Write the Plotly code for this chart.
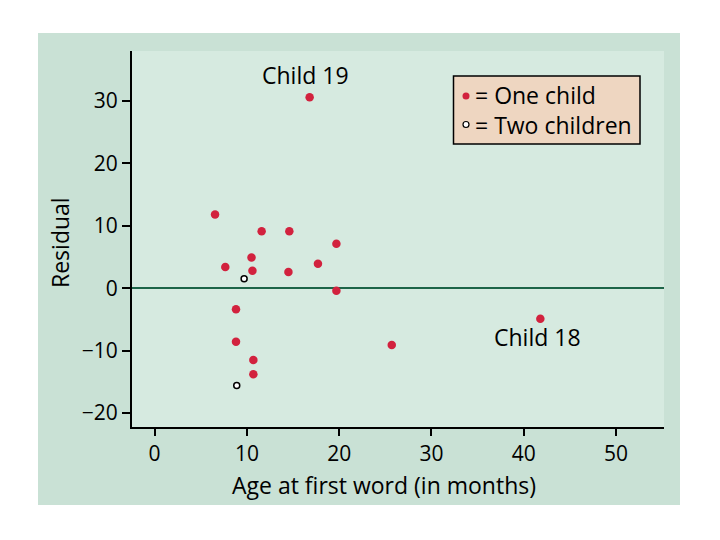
import plotly.graph_objects as go

# Data
one_child_age = [6.55, 7.66, 8.82, 8.82, 10.5, 10.6, 10.7, 10.7, 11.6, 14.6, 14.5, 17.7, 19.7, 19.7, 16.8, 25.7, 41.8]
one_child_resid = [11.8, 3.4, -3.4, -8.6, 4.9, 2.8, -11.5, -13.8, 9.1, 9.1, 2.6, 3.9, 7.1, -0.4, 30.6, -9.1, -4.9]
two_children_age = [9.7, 8.9]
two_children_resid = [1.5, -15.6]

x_ticks = [0, 10, 20, 30, 40, 50]
y_ticks = [-20, -10, 0, 10, 20, 30]

labels_text = ["Child 19", "Child 18"]
labels_x = [16.4, 41.5]
labels_y = [34.2, -7.8]

legend_lines = ["= One child", "= Two children"]

RED = "#d2223e"
FONT = "Open Sans"
OUTER = "#c9e1d5"
INNER = "#d6eae0"

OFF = 8  # page body margin shift
W, H = 720, 540
PW, PH = 532, 376
L, T = 132 - OFF, 51 - OFF
R, B = W - L - PW, H - T - PH


def px(xs):  # screen x -> paper x
    return (xs - OFF - L) / PW


def py(ys):  # screen y -> paper y
    return (T + PH - (ys - OFF)) / PH


fig = go.Figure()
fig.add_trace(go.Scatter(x=one_child_age, y=one_child_resid, mode="markers",
                         marker=dict(size=8.5, color=RED, line=dict(width=0)),
                         showlegend=False))
fig.add_trace(go.Scatter(x=two_children_age, y=two_children_resid, mode="markers",
                         marker=dict(size=6, color="white", line=dict(width=1.5, color="black")),
                         showlegend=False))

shapes = [
    # outer tinted panel
    dict(type="rect", xref="paper", yref="paper", x0=px(38), x1=px(680), y0=py(505), y1=py(33),
         fillcolor=OUTER, line=dict(width=0), layer="below"),
    # inner plotting area
    dict(type="rect", xref="paper", yref="paper", x0=0, x1=1, y0=0, y1=1,
         fillcolor=INNER, line=dict(width=0), layer="below"),
    # legend box
    dict(type="rect", xref="paper", yref="paper", x0=px(453.5), x1=px(640), y0=py(144), y1=py(76),
         fillcolor="#eed6c1", line=dict(width=1.5, color="black"), layer="above"),
    # legend symbols
    dict(type="circle", xref="paper", yref="paper", x0=px(462.5), x1=px(469.5), y0=py(99.5), y1=py(92.5),
         fillcolor=RED, line=dict(width=0)),
    dict(type="circle", xref="paper", yref="paper", x0=px(463), x1=px(469), y0=py(127.5), y1=py(121.5),
         fillcolor="white", line=dict(width=1.2, color="black")),
]

annotations = [
    dict(xref="paper", yref="paper", x=px(473), y=py(110.5), text="<br>".join(legend_lines),
         showarrow=False, xanchor="left", yanchor="middle", align="left",
         font=dict(family=FONT, size=23, color="black")),
    dict(xref="paper", yref="paper", x=px(384), y=py(485), text="Age at first word (in months)",
         showarrow=False, xanchor="center", yanchor="middle",
         font=dict(family=FONT, size=23, color="black")),
    dict(xref="paper", yref="paper", x=px(60), y=py(243), text="Residual", textangle=-90,
         showarrow=False, xanchor="center", yanchor="middle",
         font=dict(family=FONT, size=23, color="black")),
]
for t, xv, yv in zip(labels_text, labels_x, labels_y):
    annotations.append(dict(x=xv, y=yv, text=t, showarrow=False, xanchor="center", yanchor="middle",
                            font=dict(family=FONT, size=23, color="black")))

fig.update_layout(
    width=W, height=H,
    margin=dict(l=L, r=R, t=T, b=B, pad=0),
    paper_bgcolor="white",
    plot_bgcolor=INNER,
    shapes=shapes,
    annotations=annotations,
    font=dict(family=FONT, size=21, color="black"),
)
fig.update_xaxes(range=[-2.45, 55.2], tickvals=x_ticks, showgrid=False, zeroline=False,
                 showline=True, linecolor="black", linewidth=2, ticks="outside",
                 ticklen=7, tickwidth=2, tickcolor="black",
                 tickfont=dict(family=FONT, size=21, color="black"))
fig.update_yaxes(range=[-22.25, 38.0], tickvals=y_ticks, showgrid=False, zeroline=True,
                 zerolinecolor="#1d6548", zerolinewidth=2.4,
                 showline=True, linecolor="black", linewidth=2, ticks="outside",
                 ticklen=8, tickwidth=2, tickcolor="black",
                 tickfont=dict(family=FONT, size=21, color="black"))

fig.write_html("out.html")
